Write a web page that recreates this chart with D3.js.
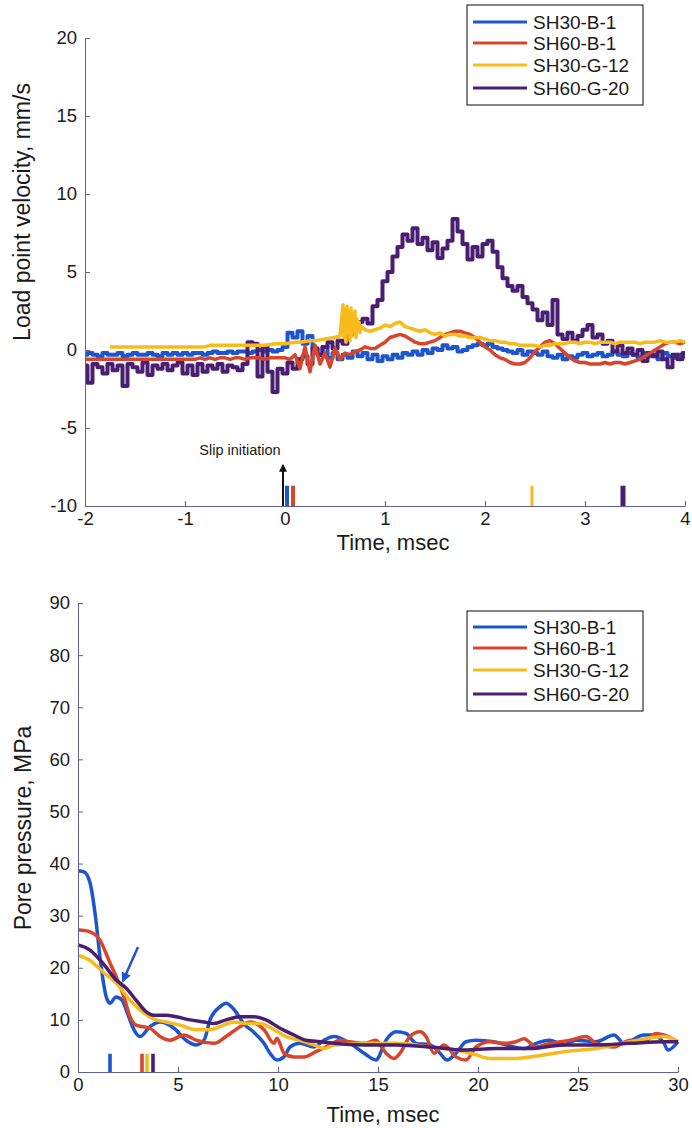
<!DOCTYPE html>
<html>
<head>
<meta charset="utf-8">
<script src="https://cdn.jsdelivr.net/npm/d3@7"></script>
<style>
  body { margin: 0; background: #fff; }
  text { font-family: "Liberation Sans", Arial, sans-serif; fill: #1a1a1a; }
</style>
</head>
<body>
<div id="chart"></div>
<script>
(function(){
  const seriesNames = ["SH30-B-1", "SH60-B-1", "SH30-G-12", "SH60-G-20"];
  const colors = ["#1d55cf", "#d8452b", "#f7bb1c", "#4a1f72"];

  // ---- top panel: load point velocity (mm/s), sampled every 0.05 ms ----
  const velStep = 0.05;
  const velBlue = [
    -0.3,-0.2,-0.3,-0.4,-0.2,-0.3,-0.3,-0.2,-0.4,-0.3,
    -0.2,-0.3,-0.3,-0.2,-0.3,-0.4,-0.2,-0.3,-0.2,-0.3,
    -0.2,-0.3,-0.2,-0.2,-0.3,-0.2,-0.1,-0.2,-0.2,-0.1,
    -0.2,-0.1,-0.1,-0.2,-0.1,0.0,-0.1,0.0,-0.1,0.0,
    0.2,1.1,0.8,1.2,0.4,0.9,0.1,-0.3,0.2,-0.5,
    -0.2,-0.6,-0.3,-0.5,-0.1,-0.4,-0.2,-0.6,-0.3,-0.7,
    -0.4,-0.6,-0.3,-0.5,-0.2,-0.3,-0.1,-0.3,0.0,-0.2,
    0.1,0.0,0.3,0.1,0.2,-0.1,0.0,0.2,0.3,0.4,
    0.3,0.4,0.2,0.1,0.0,-0.1,-0.2,0.0,-0.3,-0.1,
    -0.2,-0.3,-0.1,-0.4,-0.5,-0.3,-0.6,-0.4,-0.5,-0.3,
    -0.2,-0.4,-0.3,-0.2,-0.4,-0.3,-0.1,-0.3,-0.4,-0.2,
    -0.3,-0.5,-0.2,-0.4,-0.3,-0.6,-0.2,-0.4,-0.5,-0.3,
    -0.4
  ];
  const velRed = [
    -0.6,-0.6,-0.6,-0.6,-0.6,-0.6,-0.6,-0.6,-0.6,-0.6,
    -0.6,-0.6,-0.6,-0.6,-0.6,-0.6,-0.6,-0.6,-0.6,-0.6,
    -0.6,-0.6,-0.6,-0.5,-0.6,-0.5,-0.6,-0.5,-0.5,-0.6,
    -0.5,-0.5,-0.6,-0.5,-0.5,-0.5,-0.6,-0.5,-0.5,-0.5,
    -0.5,-0.6,-0.3,-1.2,0.2,-1.4,0.3,-0.9,-0.2,-1.1,
    0.1,-0.6,-0.2,-0.3,-0.1,0.0,0.2,0.1,0.1,0.3,
    0.5,0.8,0.9,1.0,0.9,0.7,0.5,0.4,0.4,0.5,
    0.6,0.8,1.0,1.1,1.2,1.2,1.1,1.0,0.8,0.5,
    0.2,0.0,-0.3,-0.5,-0.6,-0.8,-0.9,-0.9,-0.8,-0.5,
    -0.1,0.2,0.5,0.6,0.4,0.1,-0.2,-0.5,-0.7,-0.8,
    -0.8,-0.9,-0.9,-0.9,-0.8,-0.9,-0.8,-0.8,-0.9,-0.8,
    -0.7,-0.6,-0.4,-0.2,0.0,0.2,0.4,0.5,0.5,0.4,
    0.5
  ];
  const velYellowStart = -1.75;
  const velYellow = [
    0.2,0.2,0.2,0.2,0.2,
    0.2,0.2,0.2,0.2,0.2,0.2,0.2,0.2,0.2,0.2,
    0.2,0.2,0.2,0.2,0.2,0.3,0.3,0.3,0.3,0.3,
    0.3,0.3,0.3,0.3,0.3,0.3,0.3,0.35,0.4,0.4,
    0.4,0.45,0.5,0.5,0.55,0.6,0.6,0.65,0.7,0.75,
    0.8,0.9,2.0,1.0,2.2,1.2,1.3,1.2,1.3,1.4,
    1.6,1.5,1.7,1.8,1.5,1.4,1.3,1.2,1.3,1.1,
    1.0,1.1,0.9,1.0,1.0,0.9,0.9,0.8,0.8,0.8,
    0.7,0.6,0.6,0.5,0.5,0.4,0.4,0.3,0.3,0.3,
    0.3,0.2,0.3,0.3,0.4,0.4,0.4,0.5,0.5,0.4,
    0.5,0.5,0.4,0.5,0.5,0.5,0.4,0.5,0.5,0.5,
    0.5,0.4,0.5,0.5,0.5,0.6,0.5,0.5,0.5,0.6,
    0.5
  ];
  // burst right after slip, every 0.01 ms from 0.58 ms
  const yellowBurstStart = 0.58, yellowBurstStep = 0.01;
  const yellowBurst = [2.9,0.8,2.6,0.5,2.8,1.1,2.4,0.6,2.7,0.9,2.3,1.3,2.5,0.8,2.0,1.4,1.8,1.1,1.5];
  const velPurple = [
    -1.0,-2.1,-0.9,-1.1,-1.5,-0.9,-1.3,-1.0,-2.3,-0.9,
    -1.1,-1.4,-0.8,-1.6,-1.0,-1.2,-0.9,-1.3,-1.0,-0.8,
    -1.5,-1.0,-1.6,-0.9,-1.4,-1.0,-1.2,-0.9,-1.4,-1.0,
    -1.1,-1.3,-0.9,0.5,0.4,-1.7,0.2,-1.4,-2.7,-1.2,
    -1.5,-0.8,-1.2,-0.6,-0.4,-0.9,0.1,-0.3,0.2,0.5,
    0.1,0.6,0.4,1.0,1.3,1.8,2.0,1.7,2.8,3.2,
    4.4,5.0,6.0,6.6,7.4,7.0,7.8,6.8,7.2,6.4,
    6.9,5.9,6.5,7.0,8.4,7.6,6.8,5.8,6.6,6.0,
    6.8,7.0,6.3,5.3,4.6,4.1,3.8,4.1,3.4,3.0,
    2.6,1.9,2.4,1.6,3.2,1.0,0.7,1.1,0.6,0.9,
    1.3,1.6,0.8,1.0,0.4,0.6,-0.1,0.3,-0.2,0.1,
    -0.3,0.0,-0.7,-0.2,-0.4,-0.1,-0.6,-1.1,-0.3,-0.6,
    -0.2
  ];
  // slip markers (ms) in the top panel
  const slipTimes = [0.02, 0.08, 2.47, 3.38];
  const slipTop = -8.7;
  const velXTicks = [-2, -1, 0, 1, 2, 3, 4];
  const velYTicks = [-10, -5, 0, 5, 10, 15, 20];

  // ---- bottom panel: pore pressure (MPa) vs time (ms) ----
  const poreBlue = [[0,38.6],[0.3,38.4],[0.6,36.3],[0.9,29],[1.1,22],[1.4,14.6],[1.6,13.2],[1.9,14.4],[2.2,13.8],
    [2.45,11.5],[2.8,8.1],[3.1,6.8],[3.6,8.7],[4.1,9.6],[4.8,8.4],[5.4,6.1],[5.9,5.2],[6.3,6.1],[6.6,10],
    [7.1,12.5],[7.4,13.2],[7.8,12],[8.3,9.2],[8.8,7.6],[9.3,5.5],[9.6,3.6],[9.95,2.3],[10.3,2.9],[10.6,4.8],
    [11.1,5.5],[11.8,4.8],[12.3,6.1],[12.8,6.8],[13.6,5.5],[14.3,3.6],[14.9,2.3],[15.4,6.1],[15.9,7.7],
    [16.4,7.4],[16.9,5.5],[17.6,5.2],[18.1,3.6],[18.45,2.3],[18.9,3.6],[19.4,5.8],[19.9,6.1],[20.8,5.8],
    [21.4,5.2],[22.3,4.5],[22.9,5.5],[23.6,6.1],[24.3,5.2],[24.9,6.1],[25.9,5.8],[26.8,7.1],[27.3,5.5],
    [28.3,7.1],[28.8,7.1],[29.3,5.5],[29.5,4.2],[30,5.8]];
  const poreRed = [[0,27.3],[0.6,26.9],[1.1,25.3],[1.6,20.9],[1.9,18.4],[2.3,14.4],[2.6,10.6],[2.9,9.0],
    [3.6,8.4],[4.1,6.8],[4.6,6.1],[5.3,7.1],[5.9,6.1],[6.8,5.5],[7.4,6.8],[8.1,8.7],[8.6,9.6],[9.3,8.1],
    [9.8,5.5],[9.95,6.5],[10.3,3.6],[10.8,2.9],[11.3,2.9],[11.9,3.9],[12.6,5.2],[13.1,6.1],[13.6,5.8],
    [14.3,5.5],[14.9,6.1],[15.4,3.6],[15.8,2.6],[16.1,3.6],[16.6,6.8],[17.1,7.7],[17.4,6.8],[17.8,3.6],
    [18.3,5.2],[18.9,2.9],[19.4,2.3],[19.9,4.8],[20.6,5.8],[21.3,5.5],[21.9,5.8],[22.3,6.4],[22.9,4.8],
    [23.6,5.5],[24.6,6.1],[25.4,6.8],[25.9,5.5],[26.8,4.8],[27.6,6.1],[28.3,5.8],[28.9,7.4],[29.3,7.1],[30,5.8]];
  const poreYellow = [[0,22.4],[0.6,21.4],[1.3,19],[1.9,17.1],[2.6,13.8],[3.3,11.3],[3.9,10],[4.4,9.6],
    [5.1,9.0],[5.9,8.1],[6.6,8.1],[7.1,8.7],[7.8,9.6],[8.4,9.3],[9.1,9.3],[9.8,8.1],[10.4,6.8],[11.1,6.1],
    [11.8,5.2],[12.3,4.5],[12.8,5.2],[14.3,5.5],[15.9,5.5],[17.6,4.8],[19.3,3.9],[19.9,3.3],[20.6,2.6],
    [21.8,2.6],[22.6,2.9],[24.3,3.9],[25.9,4.5],[27.6,5.8],[29.3,6.8],[30,5.8]];
  const porePurple = [[0,24.4],[0.6,23.4],[1.3,20.6],[1.9,17.7],[2.4,16.1],[2.9,13.8],[3.4,11.6],[3.8,10.9],
    [4.4,10.9],[4.9,10.6],[5.6,10],[6.3,9.6],[6.8,9.3],[7.4,10],[8.1,10.6],[8.8,10.6],[9.4,10],[10.1,8.4],
    [10.8,7.1],[11.4,6.1],[12.1,5.8],[12.8,5.5],[14.3,5.2],[15.9,5.2],[17.6,4.8],[18.4,4.5],[19.3,4.2],
    [20.9,4.5],[22.6,4.5],[24.3,5.2],[25.9,5.2],[27.6,5.5],[29.3,5.8],[30,5.8]];
  const poreMarkTimes = [1.6, 3.2, 3.45, 3.75];
  const poreMarkTop = 3.5;
  const poreXTicks = [0, 5, 10, 15, 20, 25, 30];
  const poreYTicks = [0, 10, 20, 30, 40, 50, 60, 70, 80, 90];

  const width = 692, height = 1128;
  const axisColor = "#5d6290";

  const svg = d3.select("#chart").append("svg")
    .attr("width", width).attr("height", height);

  const defs = svg.append("defs");
  function arrowHead(id, color) {
    defs.append("marker").attr("id", id)
      .attr("viewBox", "0 0 10 10").attr("refX", 8).attr("refY", 5)
      .attr("markerWidth", 4).attr("markerHeight", 4).attr("orient", "auto")
      .append("path").attr("d", "M0,0L10,5L0,10z").attr("fill", color);
  }
  arrowHead("ahBlack", "#111");
  arrowHead("ahBlue", colors[0]);

  function toPairs(start, step, vals) {
    return vals.map((v, i) => [start + i * step, v]);
  }

  // plain hyphen minus, no decimals, like the original
  const fmt = d => String(d);

  function drawAxes(g, x, y, xTicks, yTicks) {
    const ax = g.append("g").attr("transform", `translate(0,${y.range()[0]})`)
      .call(d3.axisBottom(x).tickValues(xTicks).tickFormat(fmt).tickSize(-5).tickPadding(6).tickSizeOuter(0));
    const ay = g.append("g").attr("transform", `translate(${x.range()[0]},0)`)
      .call(d3.axisLeft(y).tickValues(yTicks).tickFormat(fmt).tickSize(-5).tickPadding(8).tickSizeOuter(0));
    [ax, ay].forEach(a => {
      a.select(".domain").attr("stroke", axisColor);
      a.selectAll(".tick line").attr("stroke", axisColor);
      a.selectAll(".tick text").attr("font-size", "18.5px").attr("fill", "#1a1a1a")
        .attr("font-family", '"Liberation Sans", Arial, sans-serif');
    });
  }

  function drawLegend(g, x0, y0, rowY) {
    g.append("rect").attr("x", x0).attr("y", y0).attr("width", 176).attr("height", 100)
      .attr("fill", "#fff").attr("stroke", "#333").attr("stroke-width", 1.2);
    seriesNames.forEach((name, i) => {
      const cy = y0 + rowY[i];
      g.append("line").attr("x1", x0 + 6).attr("x2", x0 + 60).attr("y1", cy).attr("y2", cy)
        .attr("stroke", colors[i]).attr("stroke-width", 3);
      g.append("text").attr("x", x0 + 66).attr("y", cy).attr("dy", "0.36em")
        .attr("font-size", "19px").text(name);
    });
  }

  // ================= TOP PANEL =================
  const top = svg.append("g");
  const xV = d3.scaleLinear().domain([-2, 4]).range([85, 685]);
  const yV = d3.scaleLinear().domain([-10, 20]).range([506, 38]);

  const yellowAll = toPairs(velYellowStart, velStep, velYellow)
    .concat(toPairs(yellowBurstStart, yellowBurstStep, yellowBurst))
    .sort((a, b) => a[0] - b[0]);

  const velSeries = [
    { data: toPairs(-2, velStep, velBlue), color: colors[0], curve: d3.curveStep, w: 4 },
    { data: toPairs(-2, velStep, velPurple), color: colors[3], curve: d3.curveStep, w: 4 },
    { data: toPairs(-2, velStep, velRed), color: colors[1], curve: d3.curveLinear, w: 3.5 },
    { data: yellowAll, color: colors[2], curve: d3.curveLinear, w: 3.5 }
  ];

  velSeries.forEach(s => {
    const line = d3.line().x(d => xV(d[0])).y(d => yV(d[1])).curve(s.curve);
    top.append("path").datum(s.data).attr("d", line)
      .attr("fill", "none").attr("stroke", s.color).attr("stroke-width", s.w)
      .attr("stroke-linejoin", "round");
  });

  const slipW = [4, 4, 3, 5];
  top.append("g").selectAll("rect").data(slipTimes).join("rect")
    .attr("x", (d, i) => xV(d) - slipW[i] / 2)
    .attr("y", yV(slipTop))
    .attr("width", (d, i) => slipW[i])
    .attr("height", yV(-10) - yV(slipTop))
    .attr("fill", (d, i) => colors[i]);

  top.append("line")
    .attr("x1", xV(-0.02)).attr("x2", xV(-0.02))
    .attr("y1", yV(-10)).attr("y2", yV(-7.4))
    .attr("stroke", "#111").attr("stroke-width", 2)
    .attr("marker-end", "url(#ahBlack)");
  top.append("text").attr("x", xV(-0.45)).attr("y", yV(-6.7))
    .attr("text-anchor", "middle").attr("font-size", "14.5px").text("Slip initiation");

  drawAxes(top, xV, yV, velXTicks, velYTicks);

  top.append("text").attr("x", 393).attr("y", 550).attr("text-anchor", "middle")
    .attr("font-size", "22px").text("Time, msec");
  top.append("text").attr("transform", "translate(30,212) rotate(-90)")
    .attr("text-anchor", "middle").attr("font-size", "23px").text("Load point velocity, mm/s");

  drawLegend(top, 467, 5, [17, 38, 60, 83]);

  // ================= BOTTOM PANEL =================
  const bot = svg.append("g");
  const xP = d3.scaleLinear().domain([0, 30]).range([78, 678]);
  const yP = d3.scaleLinear().domain([0, 90]).range([1072, 603]);

  const poreSeries = [poreBlue, poreRed, poreYellow, porePurple];
  const poreLine = d3.line().x(d => xP(d[0])).y(d => yP(d[1])).curve(d3.curveMonotoneX);
  poreSeries.forEach((s, i) => {
    bot.append("path").datum(s).attr("d", poreLine)
      .attr("fill", "none").attr("stroke", colors[i]).attr("stroke-width", 3.5)
      .attr("stroke-linejoin", "round");
  });

  bot.append("g").selectAll("rect").data(poreMarkTimes).join("rect")
    .attr("x", d => xP(d) - 1.8)
    .attr("y", yP(poreMarkTop))
    .attr("width", 3.6)
    .attr("height", yP(0) - yP(poreMarkTop))
    .attr("fill", (d, i) => colors[i]);

  bot.append("line")
    .attr("x1", xP(3.0)).attr("y1", yP(24))
    .attr("x2", xP(2.25)).attr("y2", yP(17.5))
    .attr("stroke", colors[0]).attr("stroke-width", 2.5)
    .attr("marker-end", "url(#ahBlue)");

  drawAxes(bot, xP, yP, poreXTicks, poreYTicks);

  bot.append("text").attr("x", 383).attr("y", 1122).attr("text-anchor", "middle")
    .attr("font-size", "22px").text("Time, msec");
  bot.append("text").attr("transform", "translate(31,828) rotate(-90)")
    .attr("text-anchor", "middle").attr("font-size", "23px").text("Pore pressure, MPa");

  drawLegend(bot, 467, 611, [16, 37, 59, 83]);
})();
</script>
</body>
</html>
